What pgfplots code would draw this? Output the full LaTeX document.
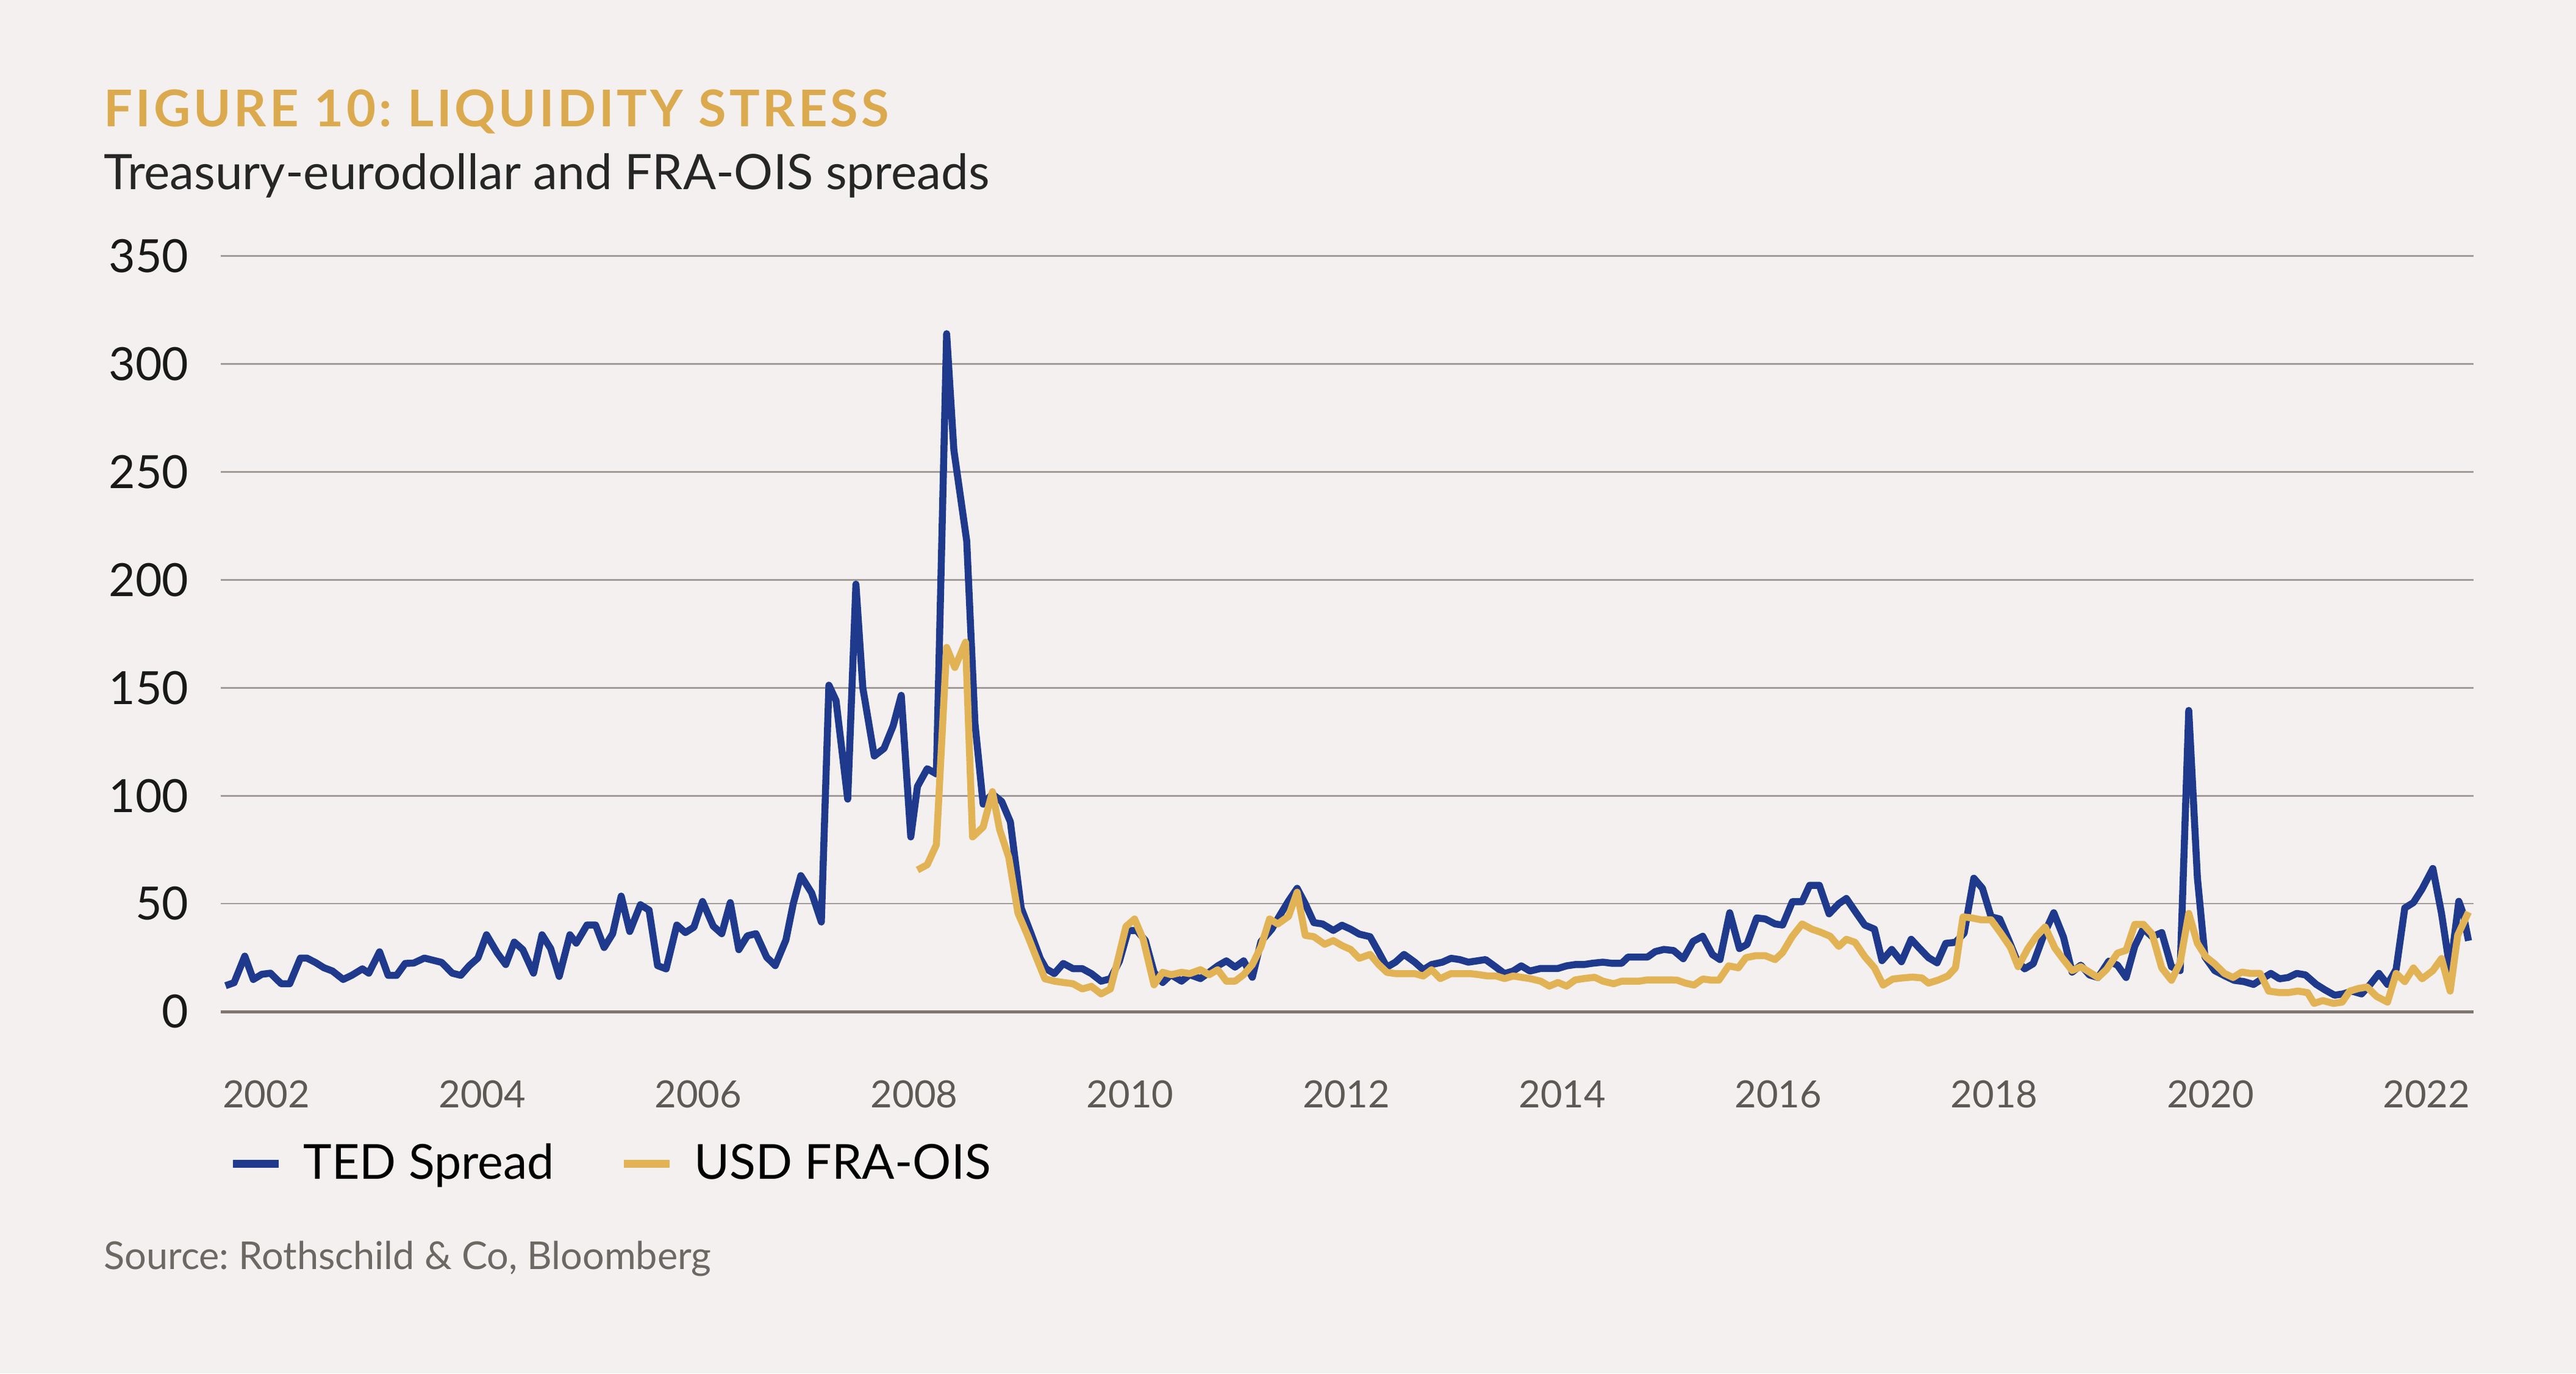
\documentclass[border=0pt]{standalone}
\usepackage{fontspec}
\setmainfont{Lato}
\usepackage{pgfplots}
\pgfplotsset{compat=1.18}

\definecolor{bg}{HTML}{F3F0EF}
\definecolor{tedblue}{HTML}{1F3A8C}
\definecolor{fragold}{HTML}{E2B355}
\definecolor{titlegold}{HTML}{DCAA4E}
\definecolor{gridc}{HTML}{A39B98}
\definecolor{zeroc}{HTML}{7E7672}
\definecolor{xlab}{HTML}{5E5955}
\definecolor{srcc}{HTML}{6E6864}

\frenchspacing
\begin{document}
\begin{tikzpicture}
\fill[bg] (0,0) rectangle (844.8pt,-450.2pt);

% title block
\node[anchor=base west, inner sep=0pt, text=titlegold,
  font=\fontsize{16.6}{20}\selectfont\bfseries\addfontfeatures{LetterSpace=6}]
  at (33.9pt,-41.5pt) {FIGURE 10: LIQUIDITY STRESS};
\node[anchor=base west, inner sep=0pt, text=black!85,
  font=\fontsize{16}{19}\selectfont]
  at (33.9pt,-62pt) {Treasury-eurodollar and FRA-OIS spreads};
\node[anchor=base west, inner sep=0pt, text=srcc,
  font=\fontsize{12.6}{15}\selectfont]
  at (33.9pt,-416pt) {Source: Rothschild \& Co, Bloomberg};

\begin{axis}[
  at={(72.34pt,-331.6pt)}, anchor=south west,
  scale only axis, width=738.9pt, height=247.7pt,
  xmin=2001.578, xmax=2022.438, ymin=0, ymax=350,
  axis line style={draw=none},
  tick style={draw=none},
  xtick={2002,2004,...,2022},
  ytick={50,100,...,350},
  extra y ticks={0},
  extra y tick style={major grid style={zeroc, line width=1pt}},
  ymajorgrids,
  major grid style={gridc, line width=0.55pt},
  /pgf/number format/1000 sep={},
  /pgf/number format/assume math mode=true,
  xticklabel style={text=xlab, font=\fontsize{12.3}{14}\selectfont, yshift=-19pt},
  yticklabel style={text=black!90, font=\fontsize{15}{18}\selectfont, xshift=-7pt},
  legend columns=2,
  legend cell align=left,
  legend style={at={(0.0035,-0.2015)}, anchor=west, draw=none, fill=none,
    inner sep=0pt, font=\fontsize{15.8}{19}\selectfont,
    nodes={inner sep=0pt},
    /tikz/every odd column/.append style={column sep=6.8pt},
    /tikz/every even column/.append style={column sep=21.5pt}},
  legend image code/.code={\draw[#1, line width=2.6pt] (0pt,0pt) -- (15pt,0pt);},
  every axis plot/.append style={line width=2.3pt, line join=round},
]
\addplot[tedblue] coordinates {
(2001.624,12) (2001.703,13.4) (2001.802,25.7) (2001.881,14.9) (2001.960,17.3)
(2002.040,17.8) (2002.139,12.9) (2002.218,12.9) (2002.317,24.8) (2002.376,24.8)
(2002.455,22.8) (2002.535,20.3) (2002.614,18.8) (2002.713,14.9) (2002.792,16.8)
(2002.891,19.8) (2002.950,17.8) (2003.050,27.7) (2003.129,16.8) (2003.208,16.8)
(2003.287,22.3) (2003.366,22.5) (2003.465,24.8) (2003.545,23.8) (2003.624,22.8)
(2003.723,17.8) (2003.802,16.8) (2003.881,21.3) (2003.960,24.8) (2004.040,35.6)
(2004.139,27.2) (2004.218,21.8) (2004.297,32.2) (2004.376,28.7) (2004.475,17.8)
(2004.554,35.6) (2004.634,29.2) (2004.713,16.3) (2004.812,35.6) (2004.871,31.7)
(2004.970,40.1) (2005.050,40.1) (2005.129,29.7) (2005.208,36.1) (2005.287,53.5)
(2005.366,37.1) (2005.465,49.5) (2005.545,47.0) (2005.624,21.3) (2005.703,19.8)
(2005.802,40.1) (2005.881,36.6) (2005.960,39.1) (2006.040,51.0) (2006.139,39.6)
(2006.218,36.1) (2006.297,50.5) (2006.376,28.7) (2006.455,35.1) (2006.535,36.1)
(2006.634,25.2) (2006.713,21.3) (2006.812,33.2) (2006.880,50.0) (2006.950,63.0)
(2007.050,55.0) (2007.140,41.5) (2007.210,151.2) (2007.276,144.1) (2007.384,98.4)
(2007.460,198.0) (2007.524,150.0) (2007.630,118.4) (2007.720,121.9) (2007.805,132.4)
(2007.880,146.5) (2007.968,80.9) (2008.030,104.3) (2008.120,112.5) (2008.205,110.1)
(2008.300,314.0) (2008.367,260.1) (2008.486,218.0) (2008.562,133.6) (2008.638,96.1)
(2008.724,100.8) (2008.810,97.3) (2008.890,87.9) (2008.990,48.0) (2009.080,36.3)
(2009.167,24.6) (2009.220,19.9) (2009.297,17.6) (2009.380,22.3) (2009.470,19.9)
(2009.556,19.9) (2009.640,17.6) (2009.730,14.1) (2009.816,15.2) (2009.900,23.4)
(2009.980,37.5) (2010.060,37.6) (2010.140,32.9) (2010.220,18.2) (2010.300,13.5)
(2010.376,17.1) (2010.475,14.1) (2010.550,17.1) (2010.650,15.3) (2010.730,18.2)
(2010.810,21.2) (2010.890,23.5) (2010.970,20.6) (2011.050,23.5) (2011.130,15.9)
(2011.210,32.4) (2011.310,38.2) (2011.386,44.7) (2011.465,51.2) (2011.545,57.1)
(2011.620,50.0) (2011.700,41.2) (2011.780,40.6) (2011.880,37.6) (2011.960,40.0)
(2012.040,38.2) (2012.120,35.9) (2012.220,34.7) (2012.300,27.6) (2012.376,20.6)
(2012.455,22.9) (2012.535,26.5) (2012.634,22.9) (2012.713,19.4) (2012.790,21.8)
(2012.890,22.9) (2012.970,24.7) (2013.050,24.1) (2013.130,22.9) (2013.210,23.5)
(2013.290,24.1) (2013.386,20.6) (2013.465,17.6) (2013.545,18.8) (2013.620,21.2)
(2013.700,18.8) (2013.800,20.0) (2013.880,20.0) (2013.960,20.0) (2014.040,21.2)
(2014.120,21.8) (2014.200,21.8) (2014.280,22.4) (2014.376,22.9) (2014.455,22.4)
(2014.550,22.4) (2014.610,25.3) (2014.710,25.3) (2014.790,25.3) (2014.860,27.8)
(2014.940,28.8) (2015.030,28.3) (2015.120,24.5) (2015.210,32.5) (2015.300,34.9)
(2015.390,26.4) (2015.460,24.1) (2015.550,45.8) (2015.640,29.2) (2015.710,31.1)
(2015.800,43.4) (2015.880,42.9) (2015.970,40.6) (2016.040,40.1) (2016.130,50.9)
(2016.220,50.9) (2016.290,58.5) (2016.380,58.5) (2016.470,45.3) (2016.560,50.0)
(2016.630,52.4) (2016.720,45.8) (2016.800,40.1) (2016.890,38.2) (2016.960,23.6)
(2017.050,28.8) (2017.140,23.1) (2017.230,33.5) (2017.300,29.7) (2017.390,25.0)
(2017.470,22.6) (2017.550,31.6) (2017.640,32.1) (2017.720,36.3) (2017.810,61.8)
(2017.890,57.1) (2017.970,43.9) (2018.050,42.9) (2018.130,33.5) (2018.210,23.6)
(2018.280,19.8) (2018.360,22.2) (2018.460,35.8) (2018.550,45.8) (2018.640,34.5)
(2018.720,18.3) (2018.800,21.5) (2018.880,17.0) (2018.960,15.8) (2019.060,23.4)
(2019.140,21.5) (2019.220,15.8) (2019.300,30.3) (2019.380,38.5) (2019.460,34.7)
(2019.550,36.6) (2019.640,20.8) (2019.720,19.0) (2019.800,139.5) (2019.880,61.9)
(2019.950,25.3) (2020.040,19.0) (2020.140,16.4) (2020.220,14.5) (2020.310,13.9)
(2020.400,12.6) (2020.480,15.2) (2020.560,17.7) (2020.640,15.2) (2020.720,15.8)
(2020.800,17.7) (2020.880,17.0) (2020.980,12.6) (2021.060,10.1) (2021.150,7.6)
(2021.230,8.2) (2021.310,9.5) (2021.400,8.2) (2021.480,12.6) (2021.560,17.7)
(2021.640,12.6) (2021.720,19.6) (2021.800,48.0) (2021.880,50.5) (2021.960,56.8)
(2022.060,66.3) (2022.140,45.5) (2022.220,19.0) (2022.300,51.1) (2022.340,45.5)
(2022.390,32.8)
};
\addlegendentry{TED Spread}
\addplot[fragold] coordinates {
(2008.030,65.6) (2008.120,68.0) (2008.205,77.3) (2008.300,168.7) (2008.376,159.4)
(2008.475,171.1) (2008.540,80.9) (2008.638,85.5) (2008.724,101.9) (2008.790,84.4)
(2008.875,71.5) (2008.960,45.7) (2009.050,35.2) (2009.124,25.8) (2009.210,15.2)
(2009.297,14.1) (2009.380,13.5) (2009.470,12.9) (2009.556,10.5) (2009.640,11.7)
(2009.730,8.2) (2009.816,10.5) (2009.880,22.9) (2009.960,39.4) (2010.040,42.9)
(2010.120,33.5) (2010.220,12.4) (2010.300,18.2) (2010.380,17.1) (2010.475,18.2)
(2010.550,17.6) (2010.650,19.4) (2010.730,17.1) (2010.810,19.4) (2010.890,14.1)
(2010.970,14.1) (2011.050,17.1) (2011.130,21.8) (2011.210,30.0) (2011.290,42.9)
(2011.366,40.6) (2011.465,44.1) (2011.545,55.3) (2011.620,35.3) (2011.700,34.7)
(2011.800,31.2) (2011.880,32.9) (2011.960,30.6) (2012.040,28.8) (2012.120,24.7)
(2012.220,26.5) (2012.300,21.8) (2012.376,18.2) (2012.455,17.6) (2012.535,17.6)
(2012.634,17.6) (2012.713,16.5) (2012.790,19.4) (2012.870,15.3) (2012.970,17.6)
(2013.050,17.6) (2013.150,17.6) (2013.230,17.1) (2013.310,16.5) (2013.390,16.5)
(2013.465,15.3) (2013.545,16.5) (2013.620,15.9) (2013.700,15.3) (2013.800,14.1)
(2013.880,11.8) (2013.960,13.5) (2014.040,11.8) (2014.120,14.7) (2014.200,15.3)
(2014.300,15.9) (2014.376,14.1) (2014.475,12.9) (2014.550,14.1) (2014.630,14.1)
(2014.710,14.1) (2014.790,14.7) (2014.870,14.7) (2014.970,14.7) (2015.060,14.6)
(2015.140,13.2) (2015.220,12.3) (2015.300,15.1) (2015.380,14.6) (2015.450,14.6)
(2015.540,21.2) (2015.630,20.3) (2015.700,25.0) (2015.790,25.9) (2015.880,25.9)
(2015.970,24.1) (2016.040,27.4) (2016.130,34.9) (2016.220,40.6) (2016.310,38.2)
(2016.390,36.8) (2016.480,34.9) (2016.560,30.2) (2016.630,33.5) (2016.710,32.1)
(2016.800,25.5) (2016.890,20.3) (2016.970,12.3) (2017.060,15.1) (2017.150,15.6)
(2017.240,16.0) (2017.330,15.6) (2017.390,13.2) (2017.480,14.6) (2017.570,16.5)
(2017.640,20.3) (2017.710,43.9) (2017.790,43.4) (2017.880,42.5) (2017.970,42.5)
(2018.060,36.3) (2018.150,29.7) (2018.220,20.8) (2018.310,29.2) (2018.390,34.9)
(2018.470,39.2) (2018.560,29.5) (2018.640,24.1) (2018.720,19.0) (2018.800,20.8)
(2018.880,18.3) (2018.960,15.8) (2019.040,19.6) (2019.140,27.1) (2019.220,28.4)
(2019.300,40.4) (2019.380,40.4) (2019.460,36.0) (2019.550,20.2) (2019.640,14.5)
(2019.720,22.7) (2019.800,45.5) (2019.880,31.6) (2019.960,25.3) (2020.040,22.1)
(2020.130,17.7) (2020.210,15.8) (2020.290,18.3) (2020.370,17.7) (2020.460,17.7)
(2020.540,9.5) (2020.640,8.8) (2020.720,8.8) (2020.810,9.5) (2020.900,8.8)
(2020.960,3.8) (2021.040,5.1) (2021.140,3.8) (2021.220,4.4) (2021.290,9.5)
(2021.370,10.7) (2021.450,11.4) (2021.540,7.0) (2021.640,4.4) (2021.720,17.7)
(2021.800,13.9) (2021.880,20.2) (2021.960,15.2) (2022.060,19.0) (2022.140,24.6)
(2022.220,9.5) (2022.290,35.4) (2022.390,46.1)
};
\addlegendentry{USD FRA-OIS}
\end{axis}

\pgfresetboundingbox
\useasboundingbox (0,0) rectangle (844.8pt,-450.2pt);
\end{tikzpicture}
\end{document}
